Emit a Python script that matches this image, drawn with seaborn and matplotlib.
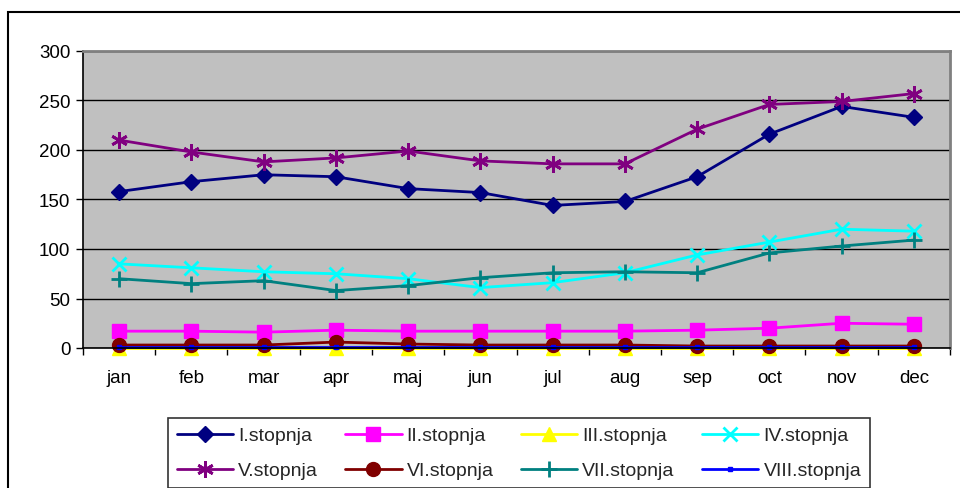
import numpy as np
import pandas as pd
import matplotlib.pyplot as plt
import seaborn as sns
from matplotlib.patches import Rectangle

# data
months = ['jan', 'feb', 'mar', 'apr', 'maj', 'jun', 'jul', 'aug', 'sep', 'oct', 'nov', 'dec']
s1 = [158, 168, 175, 173, 161, 157, 144, 148, 173, 216, 244, 233]
s2 = [17, 17, 16, 18, 17, 17, 17, 17, 18, 20, 25, 24]
s3 = [0, 0, 0, 0, 0, 0, 0, 0, 0, 0, 0, 0]
s4 = [85, 81, 77, 75, 70, 61, 66, 76, 94, 107, 120, 118]
s5 = [210, 198, 188, 192, 199, 189, 186, 186, 221, 246, 249, 257]
s6 = [3, 3, 3, 6, 4, 3, 3, 3, 2, 2, 2, 2]
s7 = [70, 65, 68, 58, 63, 71, 76, 77, 76, 96, 103, 109]
s8 = [1, 1, 1, 1, 1, 1, 1, 1, 1, 1, 1, 1]
names = ['I.stopnja', 'II.stopnja', 'III.stopnja', 'IV.stopnja',
         'V.stopnja', 'VI.stopnja', 'VII.stopnja', 'VIII.stopnja']
series = [s1, s2, s3, s4, s5, s6, s7, s8]

# style per series: colour, marker, marker size
styles = [
    ('#000080', 'D', 8.5),
    ('#FF00FF', 's', 9.5),
    ('#FFFF00', '^', 9.5),
    ('#00FFFF', 'x', 10),
    ('#800080', (6, 2, 0), 12),
    ('#800000', 'o', 10),
    ('#008080', '+', 12),
    ('#0000FF', 's', 3.5),
]

sns.set_theme(style="white")
plt.rcParams['font.family'] = ['Liberation Sans', 'DejaVu Sans']

fig = plt.figure(figsize=(9.6, 4.89), dpi=100)
ax = fig.add_axes([83/960, 1-349/489, (950-83)/960, (349-52)/489])
ax.set_facecolor('#C0C0C0')

for vals, nm, (c, m, ms) in zip(series, names, styles):
    df = pd.DataFrame({'month': months, 'val': vals})
    sns.lineplot(data=df, x='month', y='val', ax=ax, color=c, marker=m,
                 markersize=ms, linewidth=2, markeredgecolor=c,
                 markeredgewidth=2 if m in ('x', '+', (6, 2, 0)) else 1,
                 label=nm, legend=False, clip_on=False)

ax.set_xlim(-0.5, 11.5)
ax.set_ylim(0, 300)
ax.set_yticks(range(0, 301, 50))
ax.yaxis.grid(True, color='black', linewidth=1)
ax.set_axisbelow(True)
ax.set_xlabel('')
ax.set_ylabel('')

ax.set_xticks(range(12))
ax.set_xticklabels(months)
ax.set_xticks(np.arange(-0.5, 12, 1), minor=True)
ax.tick_params(axis='x', which='major', length=0, pad=15, labelsize=13.5, colors='black')
ax.tick_params(axis='x', which='minor', length=5, width=1, color='black', direction='out', bottom=True)
ax.tick_params(axis='y', length=5, width=1, color='black', direction='out', left=True,
               labelsize=13.5, pad=4, labelcolor='black')

for side in ['top', 'right']:
    ax.spines[side].set_color('#808080')
    ax.spines[side].set_linewidth(2)
for side in ['left', 'bottom']:
    ax.spines[side].set_color('black')
    ax.spines[side].set_linewidth(1.2)

# outer chart border
fig.patches.append(Rectangle((8/960, -0.1), 1.2, 1.1 - 13/489, transform=fig.transFigure,
                             fill=False, edgecolor='black', linewidth=1.5))

# legend fills column-wise, reorder so it reads row-wise like the original
h, l = ax.get_legend_handles_labels()
order = [0, 4, 1, 5, 2, 6, 3, 7]
leg = fig.legend([h[i] for i in order], [l[i] for i in order], loc='upper left',
                 bbox_to_anchor=(168/960, 1-419/489), ncol=4,
                 frameon=True, fancybox=False, edgecolor='black', fontsize=14,
                 handlelength=2.9, handletextpad=0.26, columnspacing=1.4,
                 borderpad=0.45, labelspacing=0.9, borderaxespad=0)
leg.get_frame().set_linewidth(1.2)

fig.savefig('out.png', dpi=100)
